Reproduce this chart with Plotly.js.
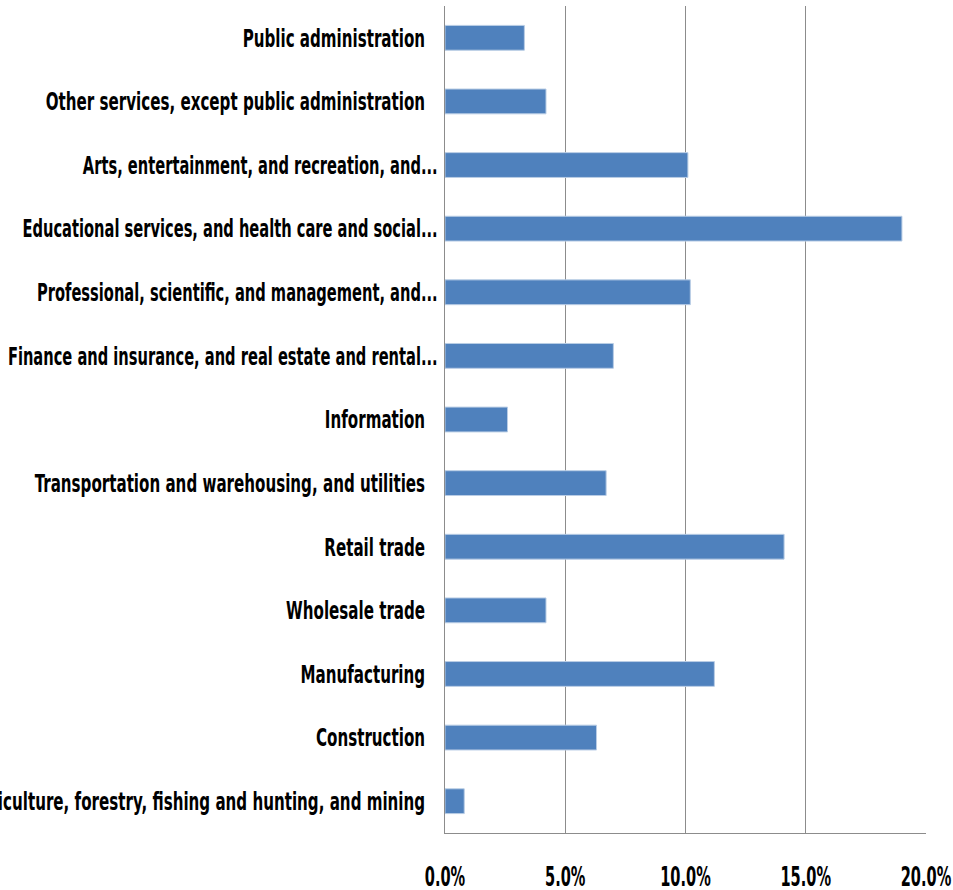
<!DOCTYPE html>
<html>
<head>
<meta charset="utf-8">
<script src="https://cdn.plot.ly/plotly-3.0.1.min.js"></script>
<style>html,body{margin:0;padding:0;background:#fff;}#chart{width:953px;height:890px;}</style>
</head>
<body>
<div id="chart"></div>
<script>
// Categories from bottom to top (Plotly draws the first category at the bottom)
const categories = [
  "Agriculture, forestry, fishing and hunting, and mining",
  "Construction",
  "Manufacturing",
  "Wholesale trade",
  "Retail trade",
  "Transportation and warehousing, and utilities",
  "Information",
  "Finance and insurance, and real estate and rental...",
  "Professional, scientific, and management, and...",
  "Educational services, and health care and social...",
  "Arts, entertainment, and recreation, and...",
  "Other services, except public administration",
  "Public administration"
];
const shares = [0.008, 0.063, 0.112, 0.042, 0.141, 0.067, 0.026, 0.070, 0.102, 0.190, 0.101, 0.042, 0.033];
const xTickValues = [0, 0.05, 0.10, 0.15, 0.20];
const xTickLabels = ["0.0%", "5.0%", "10.0%", "15.0%", "20.0%"];

// Labels that are not truncated carry trailing padding, as in the original;
// truncated ones are set a touch tighter
const yTickText = categories.map(c => c.endsWith("...")
  ? '<span style="font-size:16.3px">' + c + '</span>'
  : c + "\u2002\u2004");

const FONT = "'DejaVu Sans Condensed', 'Liberation Sans Narrow', 'Arial Narrow', sans-serif";

const trace = {
  type: "bar",
  orientation: "h",
  y: categories,
  x: shares,
  marker: {color: "#4f81bd", line: {color: "#b9cde5", width: 1}},
  width: 0.39,
  hoverinfo: "x+y"
};

const layout = {
  width: 953, height: 890,
  margin: {l: 445, r: 27, t: 6, b: 57},
  paper_bgcolor: "#ffffff", plot_bgcolor: "#ffffff",
  showlegend: false,
  font: {family: FONT, color: "#000000"},
  xaxis: {
    range: [0, 0.20],
    tickvals: xTickValues, ticktext: xTickLabels,
    showgrid: true, gridcolor: "#8c8c8c", gridwidth: 1,
    zeroline: false,
    showline: true, linecolor: "#8c8c8c", linewidth: 1,
    ticks: "", ticklabelstandoff: 29,
    tickfont: {family: FONT, size: 16.2, color: "#000000", weight: "bold"},
    fixedrange: true
  },
  yaxis: {
    type: "category",
    tickvals: categories, ticktext: yTickText,
    showgrid: false, zeroline: false,
    showline: true, linecolor: "#8c8c8c", linewidth: 1,
    ticks: "", ticklabelstandoff: 3,
    tickfont: {family: FONT, size: 16.8, color: "#000000", weight: "bold"},
    automargin: false,
    fixedrange: true
  }
};

// The original lettering is tall and narrow: stretch tick labels vertically about their own centre
function stretch(selector, k) {
  document.querySelectorAll(selector).forEach(t => {
    const bb = t.getBBox();
    const cy = bb.y + bb.height / 2;
    const base = t.getAttribute("transform") || "";
    t.setAttribute("transform", base + " translate(0," + cy + ") scale(1," + k + ") translate(0," + (-cy) + ")");
  });
}

Plotly.newPlot("chart", [trace], layout, {displayModeBar: false, staticPlot: true}).then(() => {
  stretch("#chart .xtick text", 1.65);
  stretch("#chart .ytick text", 1.5);
});
</script>
</body>
</html>
